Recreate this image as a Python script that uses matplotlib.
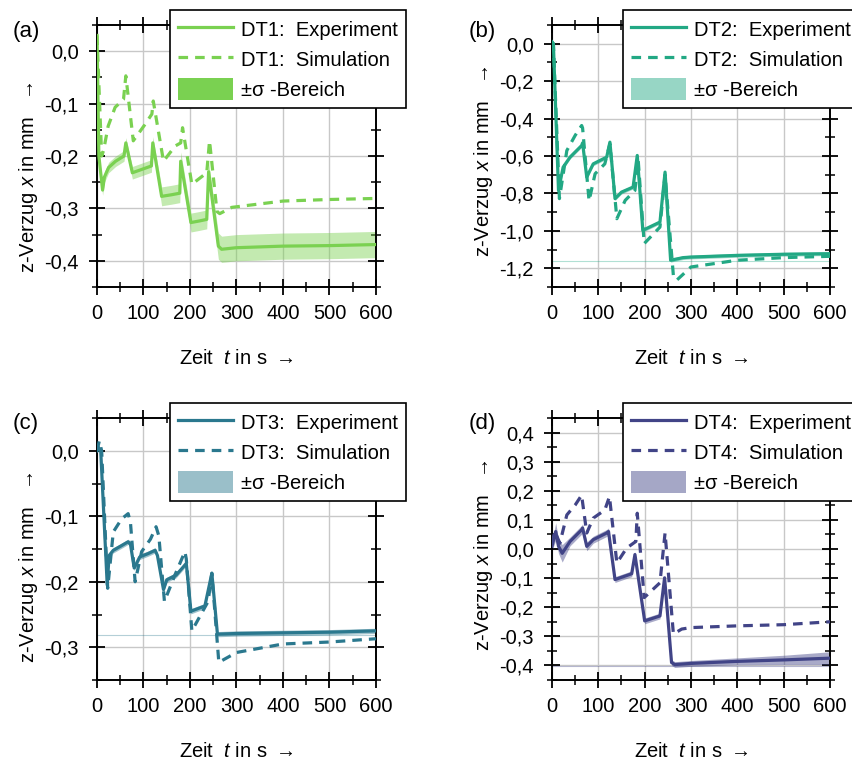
import matplotlib
matplotlib.use("Agg")
import matplotlib.pyplot as plt
import numpy as np
from matplotlib.lines import Line2D
from matplotlib.patches import Patch
from matplotlib.ticker import MultipleLocator, FuncFormatter

plt.rcParams['font.family'] = ['Liberation Sans', 'DejaVu Sans']
plt.rcParams['mathtext.fontset'] = 'custom'
plt.rcParams['mathtext.rm'] = 'Liberation Sans'
plt.rcParams['mathtext.it'] = 'Liberation Sans:italic'

# ---------------- data ----------------
names = ["DT1", "DT2", "DT3", "DT4"]
panel_labels = ["(a)", "(b)", "(c)", "(d)"]
colors = ["#7ad151", "#22a884", "#2a788e", "#414487"]

# DT1
dt1_exp_t = [0, 4, 12, 16, 25, 40, 58, 62, 76, 95, 117, 120, 139, 160, 178, 180, 202, 220, 236, 240, 261, 268, 300, 400, 500, 600]
dt1_exp_y = [0.03, -0.2, -0.265, -0.24, -0.222, -0.21, -0.2, -0.175, -0.232, -0.226, -0.219, -0.175, -0.277, -0.274, -0.271, -0.21, -0.327, -0.324, -0.321, -0.23, -0.372, -0.378, -0.375, -0.372, -0.371, -0.369]
dt1_sig = [0.005, 0.008, 0.01, 0.01, 0.01, 0.01, 0.01, 0.01, 0.012, 0.012, 0.012, 0.012, 0.018, 0.018, 0.018, 0.018, 0.018, 0.018, 0.018, 0.018, 0.025, 0.025, 0.025, 0.025, 0.025, 0.025]
dt1_sim_t = [0, 10, 14, 24, 39, 57, 62, 78, 103, 118, 121, 143, 168, 180, 184, 204, 236, 242, 258, 264, 290, 400, 500, 600]
dt1_sim_y = [0.03, -0.2, -0.19, -0.143, -0.107, -0.092, -0.047, -0.171, -0.14, -0.12, -0.095, -0.21, -0.181, -0.175, -0.146, -0.254, -0.232, -0.171, -0.306, -0.31, -0.298, -0.286, -0.283, -0.281]

# DT2
dt2_exp_t = [0, 3, 14, 24, 39, 64, 66, 75, 89, 118, 125, 136, 150, 175, 184, 196, 233, 244, 256, 283, 300, 400, 500, 600]
dt2_exp_y = [0.01, 0.0, -0.784, -0.66, -0.606, -0.544, -0.53, -0.713, -0.642, -0.606, -0.526, -0.828, -0.793, -0.766, -0.597, -0.997, -0.953, -0.686, -1.157, -1.143, -1.14, -1.131, -1.125, -1.122]
dt2_sig = [0.01] * 24
dt2_sim_t = [0, 3, 16, 32, 50, 64, 66, 80, 93, 114, 125, 140, 158, 179, 186, 199, 233, 244, 262, 269, 300, 400, 500, 600]
dt2_sim_y = [0.01, 0.0, -0.828, -0.571, -0.49, -0.437, -0.45, -0.84, -0.695, -0.642, -0.535, -0.935, -0.837, -0.784, -0.62, -1.068, -0.98, -0.7, -1.24, -1.264, -1.193, -1.157, -1.143, -1.136]

# DT3
dt3_exp_t = [0, 3, 8, 22, 26, 35, 50, 67, 72, 80, 92, 110, 125, 130, 143, 150, 170, 186, 192, 202, 232, 247, 259, 300, 400, 500, 600]
dt3_exp_y = [0.0, 0.005, 0.0, -0.205, -0.16, -0.152, -0.146, -0.139, -0.143, -0.179, -0.162, -0.157, -0.152, -0.16, -0.212, -0.197, -0.19, -0.177, -0.172, -0.245, -0.237, -0.187, -0.28, -0.279, -0.278, -0.277, -0.275]
dt3_sig = [0.004] * 27
dt3_sim_t = [0, 5, 10, 23, 35, 53, 67, 72, 82, 96, 115, 127, 133, 145, 168, 189, 192, 204, 239, 247, 262, 300, 400, 500, 600]
dt3_sim_y = [0.0, 0.015, 0.0, -0.21, -0.124, -0.104, -0.096, -0.11, -0.2, -0.154, -0.135, -0.116, -0.13, -0.23, -0.189, -0.154, -0.165, -0.275, -0.23, -0.187, -0.323, -0.308, -0.295, -0.292, -0.287]

# DT4
dt4_exp_t = [0, 8, 14, 22, 39, 64, 66, 75, 89, 118, 122, 136, 172, 179, 200, 233, 243, 258, 265, 300, 400, 500, 600]
dt4_exp_y = [0.01, 0.06, 0.01, -0.015, 0.026, 0.066, 0.072, 0.009, 0.032, 0.055, 0.06, -0.105, -0.085, -0.019, -0.247, -0.23, -0.099, -0.39, -0.397, -0.393, -0.386, -0.381, -0.375]
dt4_sig = [0.015, 0.03, 0.025, 0.03, 0.015, 0.015, 0.015, 0.015, 0.012, 0.012, 0.012, 0.01, 0.01, 0.01, 0.01, 0.01, 0.01, 0.01, 0.01, 0.01, 0.012, 0.016, 0.022]
dt4_sim_t = [0, 6, 17, 32, 50, 64, 66, 75, 89, 114, 124, 140, 161, 181, 184, 199, 233, 244, 262, 280, 300, 400, 500, 600]
dt4_sim_y = [0.02, 0.06, 0.02, 0.117, 0.151, 0.185, 0.16, 0.055, 0.106, 0.134, 0.18, -0.048, 0.003, 0.026, 0.123, -0.167, -0.116, 0.055, -0.292, -0.275, -0.27, -0.264, -0.26, -0.25]

exp_t = [dt1_exp_t, dt2_exp_t, dt3_exp_t, dt4_exp_t]
exp_y = [dt1_exp_y, dt2_exp_y, dt3_exp_y, dt4_exp_y]
sigmas = [dt1_sig, dt2_sig, dt3_sig, dt4_sig]
sim_t = [dt1_sim_t, dt2_sim_t, dt3_sim_t, dt4_sim_t]
sim_y = [dt1_sim_y, dt2_sim_y, dt3_sim_y, dt4_sim_y]

ylims = [(-0.45, 0.05), (-1.3, 0.1), (-0.35, 0.05), (-0.45, 0.45)]
ymajor = [0.1, 0.2, 0.1, 0.1]
yminor = [0.05, 0.1, 0.05, 0.05]
ref_lines = [None, -1.161, -0.282, -0.403]
legend_patch_alpha = [1.0, 0.47, 0.47, 0.47]

# ---------------- layout ----------------
W, H = 853, 764
fig = plt.figure(figsize=(W / 100, H / 100), dpi=100)

def fx(px):
    return px / W

def fy(py):
    return 1 - py / H

ax_boxes = [(97, 376, 25, 287), (552, 830, 25, 287), (97, 376, 418, 680), (552, 830, 418, 680)]
legend_anchor = [(170, 10), (623, 10), (170, 403), (623, 403)]
panel_pos = [(26, 31), (482, 31), (26, 424), (482, 424)]
ylabel_ycoord = [0.42, 0.48, 0.43, 0.477]

fs = 14.5
fmt = FuncFormatter(lambda v, _: ("%.1f" % (0.0 if abs(v) < 1e-9 else v)).replace('.', ','))

for i in range(4):
    l, r, t, b = ax_boxes[i]
    ax = fig.add_axes([fx(l), fy(b), fx(r) - fx(l), fy(t) - fy(b)])
    c = colors[i]
    et = np.array(exp_t[i]); ey = np.array(exp_y[i]); s = np.array(sigmas[i])
    ax.fill_between(et, ey - s, ey + s, color=c, alpha=0.45, lw=0, zorder=2)
    ax.plot(et, ey, color=c, lw=2.3, zorder=3, solid_joinstyle='round')
    ax.plot(sim_t[i], sim_y[i], color=c, lw=2.3, ls=(0, (3, 2.2)), zorder=3)
    if ref_lines[i] is not None:
        ax.axhline(ref_lines[i], color=c, lw=0.8, alpha=0.35, zorder=1)

    ax.set_xlim(0, 600)
    ax.set_ylim(*ylims[i])
    ax.xaxis.set_major_locator(MultipleLocator(100))
    ax.xaxis.set_minor_locator(MultipleLocator(50))
    ax.yaxis.set_major_locator(MultipleLocator(ymajor[i]))
    ax.yaxis.set_minor_locator(MultipleLocator(yminor[i]))
    ax.yaxis.set_major_formatter(fmt)
    ax.grid(True, which='major', color='#c8c8c8', lw=1.0, zorder=0)
    ax.set_axisbelow(True)
    ax.tick_params(which='major', direction='inout', length=12, width=1.3,
                   top=True, right=True, labelsize=fs)
    ax.tick_params(axis='y', which='major', pad=7)
    ax.tick_params(axis='x', which='major', pad=6)
    ax.tick_params(which='minor', direction='inout', length=7, width=1.1,
                   top=True, right=True)
    for sp in ax.spines.values():
        sp.set_linewidth(1.4)

    ax.set_xlabel(r"Zeit  $t$ in s $\rightarrow$", fontsize=fs, va='center')
    ax.xaxis.set_label_coords(0.5, -0.272)
    ax.set_ylabel(r"z-Verzug $x$ in mm   →", fontsize=fs, va='center')
    ax.yaxis.set_label_coords(-0.245, ylabel_ycoord[i])

    handles = [
        Line2D([], [], color=c, lw=2.3),
        Line2D([], [], color=c, lw=2.3, ls=(0, (3, 2.2))),
        Patch(facecolor=c, alpha=legend_patch_alpha[i], lw=0),
    ]
    labels = [f"{names[i]}:  Experiment", f"{names[i]}:  Simulation", "±σ -Bereich"]
    lx, ly = legend_anchor[i]
    leg = ax.legend(handles, labels, loc='upper left',
                    bbox_to_anchor=(fx(lx), fy(ly)), bbox_transform=fig.transFigure,
                    fontsize=fs, frameon=True, fancybox=False, framealpha=1,
                    edgecolor='black', borderpad=0.42, labelspacing=0.42,
                    handlelength=2.7, handleheight=1.25, handletextpad=0.4,
                    borderaxespad=0)
    leg.get_frame().set_linewidth(1.2)
    leg.set_zorder(10)

    px, py = panel_pos[i]
    fig.text(fx(px), fy(py), panel_labels[i], fontsize=16, ha='center', va='center')

fig.savefig("out.png", dpi=100)
